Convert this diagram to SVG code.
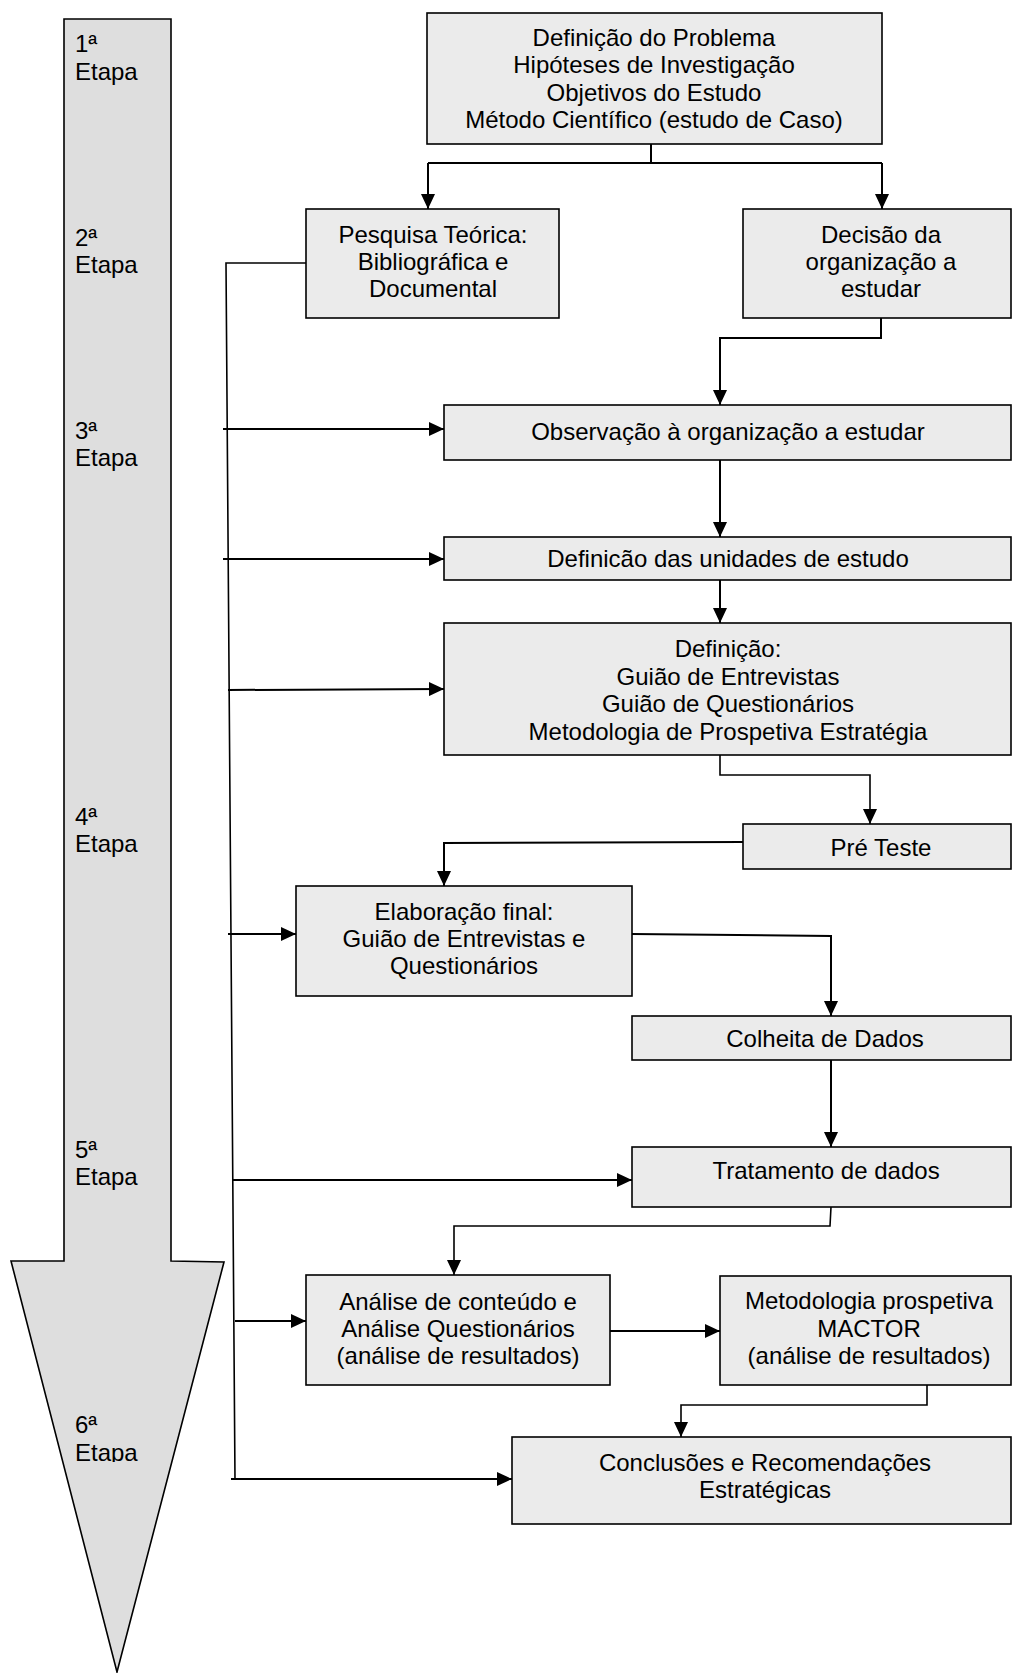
<svg xmlns="http://www.w3.org/2000/svg" width="1013" height="1673" viewBox="0 0 1013 1673">
<defs>
<style>
.box{fill:#ebebeb;stroke:#000;stroke-width:1.6}
.t{font-family:"Liberation Sans",Arial,sans-serif;font-size:24px;fill:#000;text-anchor:middle}
.lbl{font-family:"Liberation Sans",Arial,sans-serif;font-size:24px;fill:#000}
.c{fill:none;stroke:#000;stroke-width:2}
.c1{fill:none;stroke:#000;stroke-width:1.6}
</style>
<marker id="ah" markerUnits="userSpaceOnUse" markerWidth="15" markerHeight="14" refX="15" refY="7" orient="auto">
<path d="M0,0 L15,7 L0,14 z" fill="#000"/>
</marker>
<clipPath id="clip6"><rect x="60" y="1400" width="120" height="62"/></clipPath>
</defs>
<rect width="1013" height="1673" fill="#fff"/>
<g id="stage-arrow">
<polygon points="64,19 171,19 171,1261 224,1262 117,1672 11,1261 64,1261" fill="#dedede" stroke="#000" stroke-width="1.6"/>
<text class="lbl" x="75" y="52">1ª</text><text class="lbl" x="75" y="80">Etapa</text>
<text class="lbl" x="75" y="246">2ª</text><text class="lbl" x="75" y="273">Etapa</text>
<text class="lbl" x="75" y="439">3ª</text><text class="lbl" x="75" y="466">Etapa</text>
<text class="lbl" x="75" y="825">4ª</text><text class="lbl" x="75" y="852">Etapa</text>
<text class="lbl" x="75" y="1158">5ª</text><text class="lbl" x="75" y="1185">Etapa</text>
<g clip-path="url(#clip6)"><text class="lbl" x="75" y="1433">6ª</text><text class="lbl" x="75" y="1461">Etapa</text></g>
</g>
<g id="n-problema">
<rect class="box" x="427" y="13" width="455" height="131"/>
<text class="t" x="654" y="46">Definição do Problema</text>
<text class="t" x="654" y="73">Hipóteses de Investigação</text>
<text class="t" x="654" y="101">Objetivos do Estudo</text>
<text class="t" x="654" y="128">Método Científico (estudo de Caso)</text>
</g>
<g id="n-pesquisa">
<rect class="box" x="306" y="209" width="253" height="109"/>
<text class="t" x="433" y="243">Pesquisa Teórica:</text>
<text class="t" x="433" y="270">Bibliográfica e</text>
<text class="t" x="433" y="297">Documental</text>
</g>
<g id="n-decisao">
<rect class="box" x="743" y="209" width="268" height="109"/>
<text class="t" x="881" y="243">Decisão da</text>
<text class="t" x="881" y="270">organização a</text>
<text class="t" x="881" y="297">estudar</text>
</g>
<g id="n-observacao">
<rect class="box" x="444" y="405" width="567" height="55"/>
<text class="t" x="728" y="440">Observação à organização a estudar</text>
</g>
<g id="n-unidades">
<rect class="box" x="444" y="537" width="567" height="43"/>
<text class="t" x="728" y="567">Definicão das unidades de estudo</text>
</g>
<g id="n-definicao">
<rect class="box" x="444" y="623" width="567" height="132"/>
<text class="t" x="728" y="657">Definição:</text>
<text class="t" x="728" y="685">Guião de Entrevistas</text>
<text class="t" x="728" y="712">Guião de Questionários</text>
<text class="t" x="728" y="740">Metodologia de Prospetiva Estratégia</text>
</g>
<g id="n-preteste">
<rect class="box" x="743" y="824" width="268" height="45"/>
<text class="t" x="881" y="856">Pré Teste</text>
</g>
<g id="n-elaboracao">
<rect class="box" x="296" y="886" width="336" height="110"/>
<text class="t" x="464" y="920">Elaboração final:</text>
<text class="t" x="464" y="947">Guião de Entrevistas e</text>
<text class="t" x="464" y="974">Questionários</text>
</g>
<g id="n-colheita">
<rect class="box" x="632" y="1016" width="379" height="44"/>
<text class="t" x="825" y="1047">Colheita de Dados</text>
</g>
<g id="n-tratamento">
<rect class="box" x="632" y="1147" width="379" height="60"/>
<text class="t" x="826" y="1179">Tratamento de dados</text>
</g>
<g id="n-analise">
<rect class="box" x="306" y="1275" width="304" height="110"/>
<text class="t" x="458" y="1310">Análise de conteúdo e</text>
<text class="t" x="458" y="1337">Análise Questionários</text>
<text class="t" x="458" y="1364">(análise de resultados)</text>
</g>
<g id="n-mactor">
<rect class="box" x="720" y="1276" width="291" height="109"/>
<text class="t" x="869" y="1309">Metodologia prospetiva</text>
<text class="t" x="869" y="1337">MACTOR</text>
<text class="t" x="869" y="1364">(análise de resultados)</text>
</g>
<g id="n-conclusoes">
<rect class="box" x="512" y="1437" width="499" height="87"/>
<text class="t" x="765" y="1471">Conclusões e Recomendações</text>
<text class="t" x="765" y="1498">Estratégicas</text>
</g>
<g id="connectors">
<polyline class="c" points="651,144 651,163"/>
<polyline class="c" points="428,163 882,163"/>
<polyline class="c" points="428,163 428,209" marker-end="url(#ah)"/>
<polyline class="c" points="882,163 882,209" marker-end="url(#ah)"/>
<polyline class="c" points="881,318 881,338 720,338 720,405" marker-end="url(#ah)"/>
<polyline class="c" points="720,460 720,537" marker-end="url(#ah)"/>
<polyline class="c" points="720,580 720,623" marker-end="url(#ah)"/>
<polyline class="c1" points="720,755 720,775 870,775 870,824" marker-end="url(#ah)"/>
<polyline class="c" points="743,842 444,843 444,886" marker-end="url(#ah)"/>
<polyline class="c" points="632,934 831,936 831,1016" marker-end="url(#ah)"/>
<polyline class="c" points="831,1060 831,1147" marker-end="url(#ah)"/>
<polyline class="c1" points="831,1207 830,1226 454,1226 454,1275" marker-end="url(#ah)"/>
<polyline class="c" points="610,1331 720,1331" marker-end="url(#ah)"/>
<polyline class="c1" points="927,1385 927,1405 681,1405 681,1437" marker-end="url(#ah)"/>
<polyline class="c1" points="306,263 226,263 235,1480"/>
<polyline class="c" points="223,429 444,429" marker-end="url(#ah)"/>
<polyline class="c" points="223,559 444,559" marker-end="url(#ah)"/>
<polyline class="c" points="228,690 444,689" marker-end="url(#ah)"/>
<polyline class="c" points="228,934 296,934" marker-end="url(#ah)"/>
<polyline class="c" points="233,1180 632,1180" marker-end="url(#ah)"/>
<polyline class="c" points="235,1321 306,1321" marker-end="url(#ah)"/>
<polyline class="c" points="231,1479 512,1479" marker-end="url(#ah)"/>
</g>
</svg>
